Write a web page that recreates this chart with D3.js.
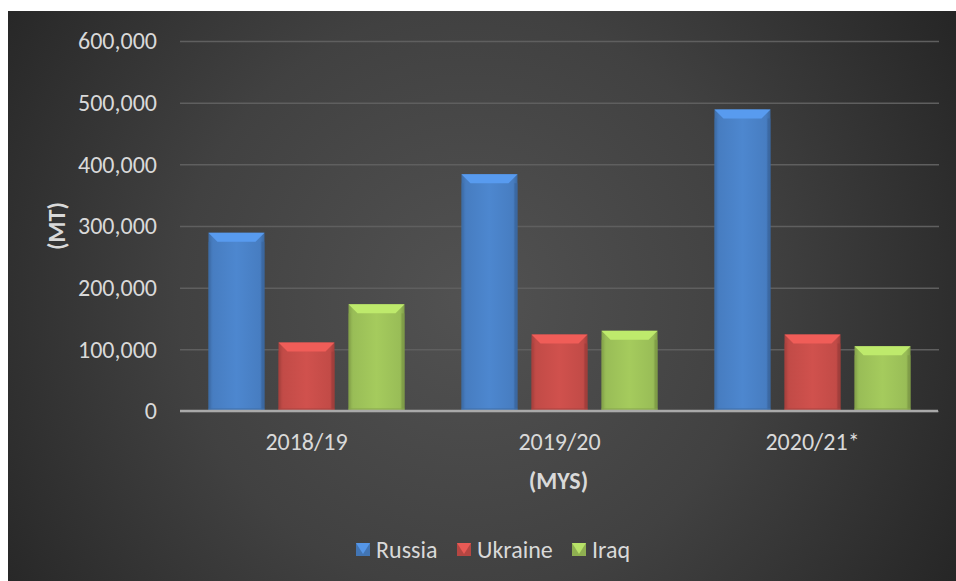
<!DOCTYPE html>
<html>
<head>
<meta charset="utf-8">
<script src="https://cdn.jsdelivr.net/npm/d3@7"></script>
<style>
  html, body { margin: 0; padding: 0; background: #fff; }
  svg { display: block; }
  text { font-family: Carlito, Lato, "Open Sans", sans-serif; }
</style>
</head>
<body>
<svg id="chart"></svg>
<script>
// data
const categories = ["2018/19", "2019/20", "2020/21*"];
const seriesNames = ["Russia", "Ukraine", "Iraq"];
const russia = [289000, 384000, 489000];
const ukraine = [111000, 124000, 124000];
const iraq = [173000, 130000, 105000];
const yTicks = [0, 100000, 200000, 300000, 400000, 500000, 600000];

const W = 956, H = 581;
const FS = 24;
const colors = {Russia: "#4a82c8", Ukraine: "#c94e4a", Iraq: "#9fc45a"};
const seriesValues = {Russia: russia, Ukraine: ukraine, Iraq: iraq};

const rows = categories.map((c, i) => ({
    cat: c,
    vals: seriesNames.map(s => ({name: s, value: seriesValues[s][i]}))
}));

const svg = d3.select("#chart").attr("width", W).attr("height", H);
const defs = svg.append("defs");

// background: dark with lighter middle
const bg = defs.append("radialGradient")
    .attr("id", "bg").attr("gradientUnits", "userSpaceOnUse")
    .attr("cx", 470).attr("cy", 300).attr("r", 580);
bg.append("stop").attr("offset", "0%").attr("stop-color", "#525252");
bg.append("stop").attr("offset", "50%").attr("stop-color", "#414141");
bg.append("stop").attr("offset", "100%").attr("stop-color", "#242424");

svg.append("rect")
    .attr("x", 8).attr("y", 11)
    .attr("width", W - 8).attr("height", H - 11)
    .attr("fill", "url(#bg)");

// horizontal shading for the bars
seriesNames.forEach(s => {
    const c = d3.color(colors[s]);
    const g = defs.append("linearGradient").attr("id", "g-" + s)
        .attr("x1", 0).attr("x2", 1).attr("y1", 0).attr("y2", 0);
    g.append("stop").attr("offset", "0%").attr("stop-color", c.darker(0.5));
    g.append("stop").attr("offset", "8%").attr("stop-color", c.darker(0.1));
    g.append("stop").attr("offset", "50%").attr("stop-color", c.brighter(0.1));
    g.append("stop").attr("offset", "92%").attr("stop-color", c.darker(0.1));
    g.append("stop").attr("offset", "100%").attr("stop-color", c.darker(0.6));
});

const plot = {left: 180, right: 939, top: 41, bottom: 411};

const x0 = d3.scaleBand()
    .domain(categories)
    .range([plot.left, plot.right])
    .paddingInner(0.225)
    .paddingOuter(0.1125);

const x1 = d3.scaleBand()
    .domain(seriesNames)
    .range([0, x0.bandwidth()])
    .paddingInner(0.2);

const y = d3.scaleLinear()
    .domain([0, 600000])
    .range([plot.bottom, plot.top]);

// y axis + gridlines
const yAxis = svg.append("g")
    .attr("transform", `translate(${plot.left},0)`)
    .call(d3.axisLeft(y)
        .tickValues(yTicks)
        .tickFormat(d3.format(","))
        .tickSizeInner(-(plot.right - plot.left))
        .tickSizeOuter(0)
        .tickPadding(23));
yAxis.select(".domain").remove();
yAxis.selectAll(".tick line")
    .attr("stroke", "#5f5f5f").attr("stroke-width", 1.5);
yAxis.selectAll(".tick text")
    .attr("fill", "#d9d9d9").attr("font-size", FS);

// bars
const groups = svg.append("g").selectAll("g")
    .data(rows)
    .join("g")
    .attr("transform", d => `translate(${x0(d.cat)},0)`);

function bevelBar(sel, w, h, color) {
    const c = d3.color(color);
    const b = Math.min(9, h / 2);
    sel.append("path")
        .attr("d", `M0,0H${w}L${w - b},${b}H${b}Z`)
        .attr("fill", c.brighter(0.5));
    sel.append("path")
        .attr("d", `M${w - 3},${b}H${w}V${h}H${w - 3}Z`)
        .attr("fill", c.darker(0.7)).attr("opacity", 0.7);
    sel.append("path")
        .attr("d", `M0,${b}H2V${h}H0Z`)
        .attr("fill", c.darker(0.5)).attr("opacity", 0.6);
    sel.append("path")
        .attr("d", `M0,${h - 3}H${w}V${h}H0Z`)
        .attr("fill", c.darker(0.5)).attr("opacity", 0.5);
}

groups.selectAll("g.bar")
    .data(d => d.vals)
    .join("g")
    .attr("class", "bar")
    .attr("transform", d => `translate(${x1(d.name)},${y(d.value)})`)
    .each(function (d) {
        const g = d3.select(this);
        const w = x1.bandwidth();
        const h = y(0) - y(d.value);
        g.append("rect")
            .attr("width", w).attr("height", h)
            .attr("fill", `url(#g-${d.name})`);
        bevelBar(g, w, h, colors[d.name]);
    });

// x axis
const xAxis = svg.append("g")
    .attr("transform", `translate(0,${plot.bottom})`)
    .call(d3.axisBottom(x0).tickSize(0).tickPadding(0));
xAxis.select(".domain").remove();
xAxis.append("line")
    .attr("x1", plot.left).attr("x2", plot.right - 1)
    .attr("stroke", "#a9a9a9").attr("stroke-width", 2.5);
xAxis.selectAll(".tick text")
    .attr("y", 31).attr("dy", "0.35em")
    .attr("fill", "#d9d9d9").attr("font-size", FS);

// axis titles
svg.append("text")
    .attr("x", (plot.left + plot.right) / 2 - 1).attr("y", 481)
    .attr("dy", "0.35em")
    .attr("text-anchor", "middle")
    .attr("font-size", FS).attr("font-weight", "bold")
    .attr("fill", "#d9d9d9")
    .text("(MYS)");

svg.append("text")
    .attr("transform", `translate(57,${(plot.top + plot.bottom) / 2}) rotate(-90)`)
    .attr("dy", "0.35em")
    .attr("text-anchor", "middle")
    .attr("font-size", FS).attr("font-weight", "bold")
    .attr("fill", "#d9d9d9")
    .text("(MT)");

// legend
const legendX = [356, 457, 572];
const legend = svg.append("g").selectAll("g")
    .data(seriesNames)
    .join("g")
    .attr("transform", (d, i) => `translate(${legendX[i]},543)`);
legend.each(function (d) {
    const g = d3.select(this);
    const c = d3.color(colors[d]);
    g.append("rect").attr("width", 14).attr("height", 13).attr("fill", c.darker(0.3));
    g.append("path").attr("d", "M0,0H14L7,11Z").attr("fill", c.brighter(0.4));
});
legend.append("text")
    .attr("x", 20).attr("y", 6.5).attr("dy", "0.35em")
    .attr("fill", "#d9d9d9").attr("font-size", FS)
    .text(d => d);
</script>
</body>
</html>
